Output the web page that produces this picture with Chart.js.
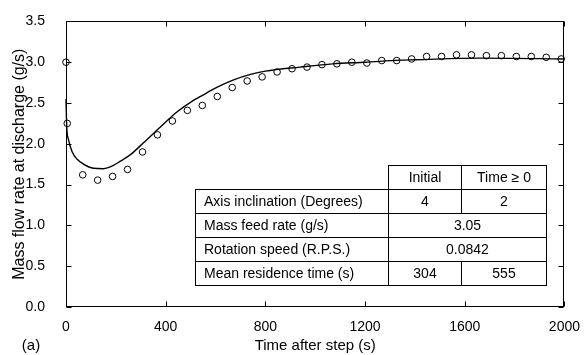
<!DOCTYPE html>
<html lang="en">
<head>
  <meta charset="UTF-8" />
  <title>Mass flow rate at discharge</title>
  <style>
    body { margin: 0; background: #fff; font-family: "Liberation Sans", Arial, Helvetica, sans-serif; }
    .wrap { position: relative; width: 584px; height: 355px; }
    canvas { display: block; }
    .params { position: absolute; left: 195px; top: 165px; width: 351px; border-collapse: collapse; font-size: 14px; color: #000; table-layout: fixed; }
    .params td { border: 1px solid #000; height: 23px; padding: 0; text-align: center; line-height: 23px; white-space: nowrap; }
    .params td.name { text-align: left; padding-left: 8px; }
    .params td.blank { border-top: none; border-left: none; }
  </style>
</head>
<body>
  <div class="wrap">
    <canvas id="chart" width="584" height="355"></canvas>
    <table class="params" id="params"></table>
  </div>

  <script src="https://cdn.jsdelivr.net/npm/chart.js@4.4.1/dist/chart.umd.min.js"></script>
  <script>
    // measured discharge rate (circles)
    const measTime = [0, 5, 67, 127, 187, 247, 307, 367, 427, 487, 547, 607, 667, 727, 787, 847, 907, 967,
      1027, 1087, 1147, 1207, 1267, 1327, 1387, 1447, 1507, 1567, 1627, 1687, 1747, 1807, 1867, 1927, 1987];
    const measRate = [3.0, 2.25, 1.62, 1.555, 1.6, 1.686, 1.9, 2.11, 2.28, 2.41, 2.47, 2.58, 2.69, 2.77, 2.82, 2.88, 2.92, 2.94,
      2.97, 2.98, 3.0, 2.99, 3.02, 3.02, 3.04, 3.07, 3.07, 3.09, 3.09, 3.08, 3.08, 3.07, 3.07, 3.06, 3.04];

    // model prediction (solid line)
    const modelTime = [0, 3, 10, 25, 45, 70, 110, 150, 180, 220, 260, 310, 380, 445, 510, 540, 605, 670, 740, 800,
      940, 1070, 1200, 1340, 1400, 1660, 2000];
    const modelRate = [2.55, 2.21, 2.05, 1.9, 1.81, 1.75, 1.7, 1.695, 1.72, 1.79, 1.87, 2.01, 2.21, 2.39, 2.53, 2.58,
      2.69, 2.78, 2.85, 2.89, 2.94, 2.98, 3.0, 3.025, 3.03, 3.05, 3.04];

    const xTicks = [0, 400, 800, 1200, 1600, 2000];
    const yTicks = [0, 0.5, 1.0, 1.5, 2.0, 2.5, 3.0, 3.5];

    // operating conditions table
    const paramNames = ['Axis inclination (Degrees)', 'Mass feed rate (g/s)', 'Rotation speed (R.P.S.)', 'Mean residence time (s)'];
    const paramInitial = ['4', '3.05', '0.0842', '304'];
    const paramAfter = ['2', '3.05', '0.0842', '555'];

    const FONT = '"Liberation Sans", Arial, Helvetica, sans-serif';

    function buildTable() {
      let html = '<colgroup><col style="width:193px"><col style="width:73px"><col style="width:85px"></colgroup>';
      html += '<tr><td class="blank"></td><td>Initial</td><td>Time &ge; 0</td></tr>';
      paramNames.forEach((name, i) => {
        if (paramInitial[i] === paramAfter[i]) {
          html += `<tr><td class="name">${name}</td><td colspan="2">${paramInitial[i]}</td></tr>`;
        } else {
          html += `<tr><td class="name">${name}</td><td>${paramInitial[i]}</td><td>${paramAfter[i]}</td></tr>`;
        }
      });
      document.getElementById('params').innerHTML = html;
    }

    // box frame with short inward ticks on all four sides, plus the panel tag
    const frameTicks = {
      id: 'frameTicks',
      afterDraw(chart) {
        const { ctx, chartArea: a, scales: { x, y } } = chart;
        const L = Math.round(a.left) + 0.5, R = Math.round(a.right) - 0.5;
        const T = Math.round(a.top) + 0.5, B = Math.round(a.bottom) - 0.5;
        ctx.save();
        ctx.strokeStyle = '#000';
        ctx.lineWidth = 1;
        ctx.strokeRect(L, T, R - L, B - T);
        ctx.beginPath();
        xTicks.forEach(v => {
          const px = Math.round(x.getPixelForValue(v)) + 0.5;
          ctx.moveTo(px, B); ctx.lineTo(px, B - 5);
          ctx.moveTo(px, T); ctx.lineTo(px, T + 5);
        });
        yTicks.forEach(v => {
          const py = Math.round(y.getPixelForValue(v)) + 0.5;
          ctx.moveTo(L, py); ctx.lineTo(L + 5, py);
          ctx.moveTo(R, py); ctx.lineTo(R - 5, py);
        });
        ctx.stroke();
        ctx.fillStyle = '#000';
        ctx.font = '15px ' + FONT;
        ctx.textAlign = 'center';
        ctx.textBaseline = 'middle';
        ctx.fillText('(a)', 31, 346);
        ctx.restore();
      }
    };

    new Chart(document.getElementById('chart'), {
      type: 'scatter',
      data: {
        datasets: [
          {
            label: 'Measured',
            data: measTime.map((t, i) => ({ x: t, y: measRate[i] })),
            pointStyle: 'circle',
            pointRadius: 3.3,
            pointBorderWidth: 1,
            pointBorderColor: '#000',
            pointBackgroundColor: 'rgba(0,0,0,0)',
            showLine: false,
            clip: false
          },
          {
            label: 'Model',
            data: modelTime.map((t, i) => ({ x: t, y: modelRate[i] })),
            showLine: true,
            pointRadius: 0,
            borderColor: '#000',
            borderWidth: 1.4,
            cubicInterpolationMode: 'monotone',
            clip: false
          }
        ]
      },
      options: {
        responsive: false,
        animation: false,
        layout: { padding: { left: 0, right: 19, top: 16, bottom: 0 } },
        plugins: { legend: { display: false }, tooltip: { enabled: false } },
        scales: {
          x: {
            type: 'linear', min: 0, max: 2000,
            afterBuildTicks: s => { s.ticks = xTicks.map(v => ({ value: v })); },
            ticks: { color: '#000', font: { family: FONT, size: 14 }, padding: 4, maxRotation: 0, callback: v => String(v) },
            grid: { display: false },
            border: { display: false },
            title: { display: true, text: 'Time after step (s)', color: '#000', font: { family: FONT, size: 15 }, padding: { top: 0, bottom: 0 } },
            afterFit: s => { s.height = 48; }
          },
          y: {
            type: 'linear', min: 0, max: 3.5,
            afterBuildTicks: s => { s.ticks = yTicks.map(v => ({ value: v })); },
            ticks: { color: '#000', font: { family: FONT, size: 14 }, padding: 13, callback: v => v.toFixed(1) },
            grid: { display: false },
            border: { display: false },
            title: { display: true, text: 'Mass flow rate at discharge (g/s)', color: '#000', font: { family: FONT, size: 16 }, padding: { top: 10, bottom: 0 } },
            afterFit: s => { s.width = 66; }
          }
        }
      },
      plugins: [frameTicks]
    });

    buildTable();
  </script>
</body>
</html>
